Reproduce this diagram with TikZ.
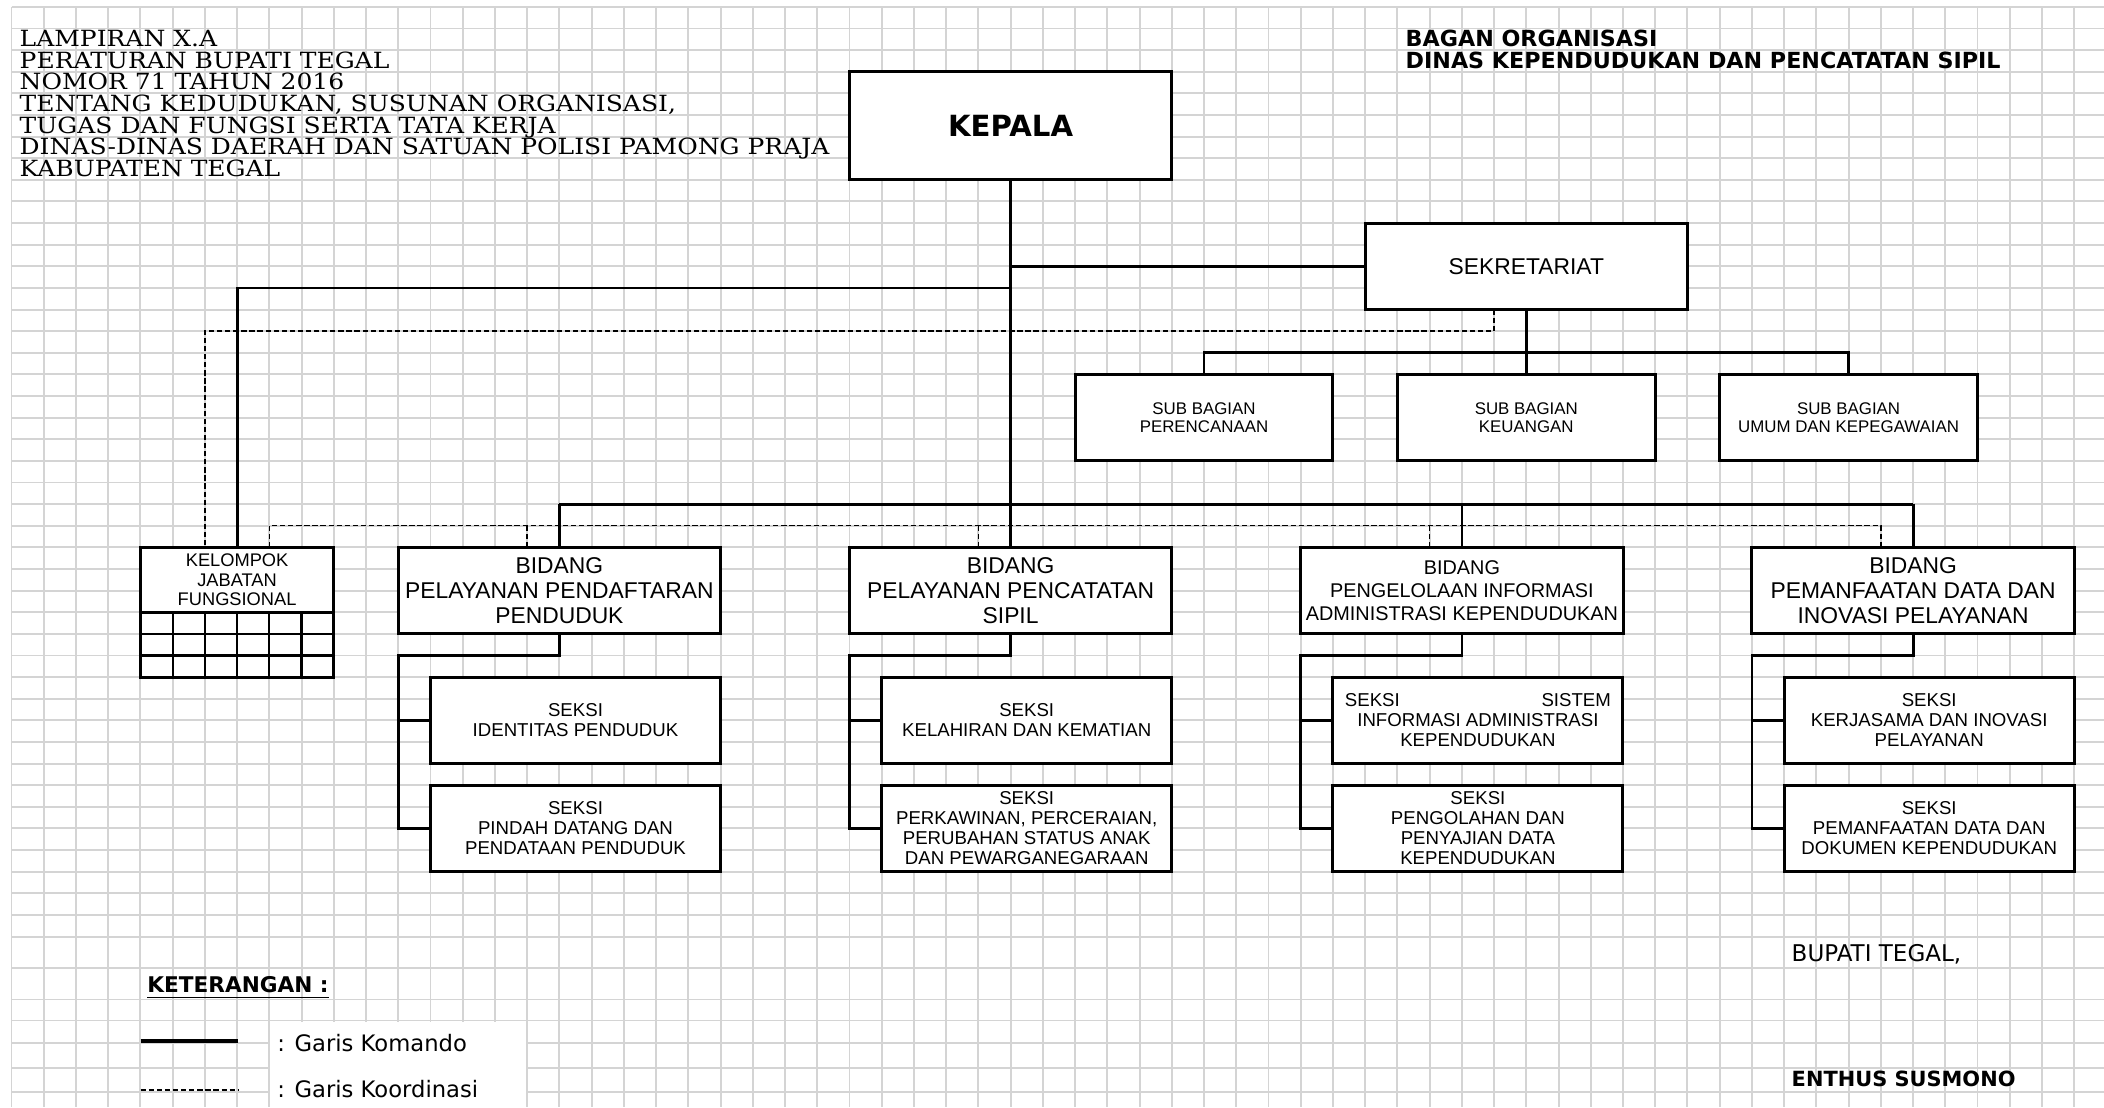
\documentclass[tikz,border=0pt]{standalone}
\usepackage{fontspec}
\setmainfont{Liberation Sans}
\newfontfamily\lampfont[FakeStretch=1.12]{DejaVu Serif}
\newfontfamily\judulfont{DejaVu Sans}
\usetikzlibrary{calc}

\begin{document}
\begin{tikzpicture}[
    kisi/.style={black!17, line width=0.55pt},
    kotak/.style={draw, line width=0.85pt, fill=white, inner sep=0pt, outer sep=0pt, align=center},
    bidang/.style={kotak, minimum width=3.223cm, minimum height=0.865cm, font=\fontsize{6.5}{7.1}\selectfont},
    seksi/.style={kotak, minimum width=2.901cm, minimum height=0.865cm, font=\fontsize{5.3}{5.7}\selectfont},
    subbag/.style={kotak, minimum width=2.578cm, minimum height=0.865cm, font=\fontsize{4.8}{5.3}\selectfont},
    komando/.style={line width=0.8pt},
    koordinasi/.style={line width=0.4pt, dash pattern=on 1.5pt off 0.8pt},
    lampiran/.style={inner sep=0pt, font=\lampfont\fontsize{6.35}{7}\selectfont},
    ket/.style={inner sep=0pt, font=\judulfont\fontsize{6.45}{7}\selectfont}
  ]
  \useasboundingbox (0,0) rectangle (21.04,-11.07);

  \foreach \k in {0,...,64}
    \draw[kisi] ({0.115+0.3223*\k},-0.0684) -- ({0.115+0.3223*\k},-11.07);
  \foreach \k in {0,...,43}
    \draw[kisi] (0.115,{-0.0684-0.2162*\k}) -- (21.04,{-0.0684-0.2162*\k});
  \foreach \y in {9.683,9.995,10.205,10.43,10.68,10.92}
    \draw[kisi] (0.115,-\y) -- (21.04,-\y);
  \fill[white] (2.703,-10.215) rectangle (5.262,-11.07);

  \foreach \baris [count=\i] in {LAMPIRAN X.A, PERATURAN BUPATI TEGAL, NOMOR 71 TAHUN 2016,
      {TENTANG KEDUDUKAN, SUSUNAN ORGANISASI,}, TUGAS DAN FUNGSI SERTA TATA KERJA,
      DINAS-DINAS DAERAH DAN SATUAN POLISI PAMONG PRAJA, KABUPATEN TEGAL}
    \node[lampiran, anchor=base west] (lamp\i) at (0.19,{-0.0684-0.2162*(\i+1)+0.034}) {\baris};

  \node[inner sep=0pt, anchor=base west, font=\judulfont\bfseries\fontsize{6.32}{7}\selectfont] (judul1) at (14.05,-0.467) {BAGAN ORGANISASI};
  \node[inner sep=0pt, anchor=base west, font=\judulfont\bfseries\fontsize{6.32}{7}\selectfont] (judul2) at (14.05,-0.683) {DINAS KEPENDUDUKAN DAN PENCATATAN SIPIL};

  \node[kotak, minimum width=3.223cm, minimum height=1.081cm, font=\judulfont\bfseries\fontsize{8.3}{9}\selectfont] (kepala) at (10.106,-1.2575) {KEPALA};
  \node[kotak, minimum width=3.223cm, minimum height=0.865cm, font=\fontsize{6.5}{7}\selectfont] (sek) at (15.263,-2.6625) {SEKRETARIAT};

  \node[subbag] (sb1) at (12.04,-4.1765) {SUB BAGIAN\\PERENCANAAN};
  \node[subbag] (sb2) at (15.263,-4.1765) {SUB BAGIAN\\KEUANGAN};
  \node[subbag] (sb3) at (18.486,-4.1765) {SUB BAGIAN\\UMUM DAN KEPEGAWAIAN};

  \node[kotak, minimum width=1.934cm, minimum height=0.649cm, font=\fontsize{5.2}{5.5}\selectfont] (kjf) at (2.371,-5.7975) {KELOMPOK\\JABATAN\\FUNGSIONAL};
  \draw[kotak] (kjf.south west) rectangle ($(kjf.south east)+(0,-0.649)$);
  \foreach \c in {1,...,5}
    \draw[line width=0.6pt] ($(kjf.south west)+(0.3223*\c,0)$) -- ++(0,-0.649);
  \foreach \r in {1,2}
    \draw[line width=0.6pt] ($(kjf.south west)+(0,-0.2162*\r)$) -- ++(1.934,0);

  \node[bidang] (bd1) at (5.594,-5.9055) {BIDANG\\PELAYANAN PENDAFTARAN\\PENDUDUK};
  \node[bidang] (bd2) at (10.106,-5.9055) {BIDANG\\PELAYANAN PENCATATAN\\SIPIL};
  \node[bidang, font=\fontsize{5.65}{6.6}\selectfont] (bd3) at (14.619,-5.9055) {BIDANG\\PENGELOLAAN INFORMASI\\ADMINISTRASI KEPENDUDUKAN};
  \node[bidang] (bd4) at (19.131,-5.9055) {BIDANG\\PEMANFAATAN DATA DAN\\INOVASI PELAYANAN};

  \node[seksi] (sk11) at (5.755,-7.2035) {SEKSI\\IDENTITAS PENDUDUK};
  \node[seksi] (sk12) at (5.755,-8.284) {SEKSI\\PINDAH DATANG DAN\\PENDATAAN PENDUDUK};
  \node[seksi] (sk21) at (10.267,-7.2035) {SEKSI\\KELAHIRAN DAN KEMATIAN};
  \node[seksi] (sk22) at (10.267,-8.284) {SEKSI\\PERKAWINAN, PERCERAIAN,\\PERUBAHAN STATUS ANAK\\DAN PEWARGANEGARAAN};
  \node[seksi] (sk31) at (14.779,-7.2035) {\makebox[2.66cm]{SEKSI\hfill SISTEM}\\INFORMASI ADMINISTRASI\\KEPENDUDUKAN};
  \node[seksi] (sk32) at (14.779,-8.284) {SEKSI\\PENGOLAHAN DAN\\PENYAJIAN DATA\\KEPENDUDUKAN};
  \node[seksi] (sk41) at (19.292,-7.2035) {SEKSI\\KERJASAMA DAN INOVASI\\PELAYANAN};
  \node[seksi] (sk42) at (19.292,-8.284) {SEKSI\\PEMANFAATAN DATA DAN\\DOKUMEN KEPENDUDUKAN};

  \coordinate (yKjf) at (0,-2.879);
  \coordinate (ySub) at (0,-3.528);
  \coordinate (yBid) at (0,-5.041);
  \coordinate (yKoorA) at (0,-3.311);
  \coordinate (yKoorB) at (0,-5.257);
  \coordinate (yCab) at (0,-6.554);

  \draw[komando] (kepala.south) -- (kepala.south |- yBid);
  \draw[komando] (kepala.south |- sek.west) -- (sek.west);
  \draw[komando] (kepala.south |- yKjf) -| (kjf.north);
  \draw[komando] (sek.south) -- (sb2.north);
  \draw[komando] (sb1.north) -- (sb1.north |- ySub) -- (sb3.north |- ySub) -- (sb3.north);
  \draw[komando] (bd1.north |- yBid) -- (bd4.north |- yBid);
  \foreach \i in {1,...,4} {
    \draw[komando] (bd\i.north |- yBid) -- (bd\i.north);
    \draw[komando] (bd\i.south) -- (bd\i.south |- yCab) -| (sk\i2.west -| bd\i.west) -- (sk\i2.west);
    \draw[komando] (sk\i1.west -| bd\i.west) -- (sk\i1.west);
    \coordinate (dd\i) at ($(bd\i.north)+(-0.3223,0)$);
  }

  \coordinate (ksek) at ($(sek.south)+(-0.3223,0)$);
  \coordinate (kjfL) at ($(kjf.north)+(-0.3223,0)$);
  \coordinate (kjfR) at ($(kjf.north)+(0.3223,0)$);
  \draw[koordinasi] (ksek) -- (ksek |- yKoorA) -| (kjfL);
  \draw[koordinasi] (kjfR) |- (dd4 |- yKoorB) -- (dd4);
  \foreach \i in {1,2,3}
    \draw[koordinasi] (dd\i |- yKoorB) -- (dd\i);

  \node[inner sep=0pt, anchor=base west, font=\judulfont\bfseries\fontsize{6.15}{7}\selectfont] (keterangan) at (1.467,-9.923) {\underline{KETERANGAN :}};
  \coordinate (lk1) at (1.407,-10.41);
  \coordinate (lk2) at (2.383,-10.41);
  \coordinate (lk3) at (1.407,-10.90);
  \coordinate (lk4) at (2.383,-10.90);
  \draw[line width=0.95pt] (lk1) -- (lk2);
  \draw[koordinasi] (lk3) -- (lk4);
  \node[ket, anchor=base west] (garis1) at (2.767,-10.517) {: Garis Komando};
  \node[ket, anchor=base west] (garis2) at (2.767,-10.973) {: Garis Koordinasi};

  \node[inner sep=0pt, anchor=base west, font=\judulfont\fontsize{6.55}{7}\selectfont] (bupati) at (17.91,-9.617) {BUPATI TEGAL,};
  \node[inner sep=0pt, anchor=base west, font=\judulfont\bfseries\fontsize{5.95}{7}\selectfont] (nama) at (17.91,-10.867) {ENTHUS SUSMONO};
\end{tikzpicture}
\end{document}
